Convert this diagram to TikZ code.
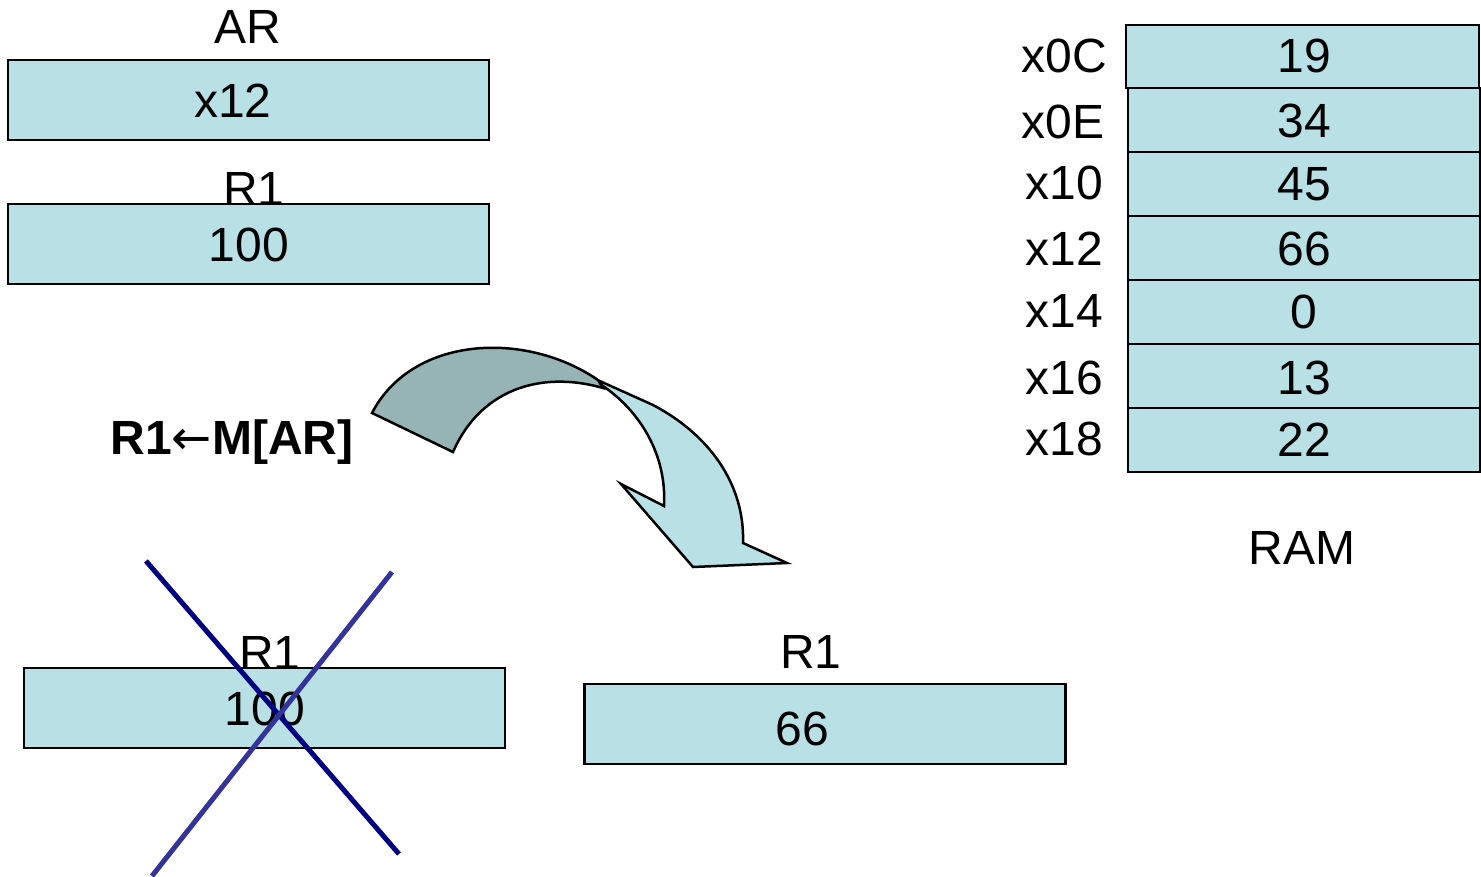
\documentclass[tikz,border=0pt]{standalone}
\usepackage{fontspec}
\setmainfont{Liberation Sans}
\newfontfamily\arrowfont{DejaVu Sans}
\newcommand\bigtxt{\fontsize{48}{57}\selectfont}
\definecolor{cellfill}{RGB}{185,224,228}
\definecolor{backfill}{RGB}{150,180,182}
\definecolor{navyA}{RGB}{0,0,128}
\definecolor{navyB}{RGB}{51,51,153}
\begin{document}
\begin{tikzpicture}[x=1pt,y=-1pt,
  reg/.style={draw, line width=2.5pt, fill=cellfill, inner sep=0pt, outer sep=0pt},
  wide/.style={reg, minimum width=481pt, minimum height=80pt},
  cell/.style={reg, minimum width=352pt, minimum height=64pt},
  txt/.style={font=\bigtxt, anchor=base, inner sep=0pt},
  cross/.style={line width=5pt}]
\useasboundingbox (0,0) rectangle (1481,876);

% AR register
\node[txt] (arlab) at (248,43) {AR};
\node[wide] (arbox) at (248.5,100) {};
\node[txt] (arval) at (233,117) {x12};

% R1 register (before)
\node[txt] (r1lab) at (254,205) {R1};
\node[wide] (r1box) at (248.5,244) {};
\node[txt] (r1val) at (249,261) {100};

% RAM
\node[reg, minimum width=353pt, minimum height=63pt] (m0) at (1302.5,56.5) {};
\node[cell] (m1) at (1304,120) {};
\node[cell] (m2) at (1304,184) {};
\node[cell] (m3) at (1304,248) {};
\node[cell] (m4) at (1304,312) {};
\node[cell] (m5) at (1304,376) {};
\node[cell] (m6) at (1304,440) {};
\node[txt] (v0) at (1304,72) {19};
\node[txt] (v1) at (1304,137) {34};
\node[txt] (v2) at (1304,200) {45};
\node[txt] (v3) at (1304,265) {66};
\node[txt] (v4) at (1304,328) {0};
\node[txt] (v5) at (1304,394) {13};
\node[txt] (v6) at (1304,456) {22};
\node[txt] (a0) at (1064,72) {x0C};
\node[txt] (a1) at (1063,138) {x0E};
\node[txt] (a2) at (1064,199) {x10};
\node[txt] (a3) at (1064,265) {x12};
\node[txt] (a4) at (1064,327) {x14};
\node[txt] (a5) at (1064,394) {x16};
\node[txt] (a6) at (1064,455) {x18};
\node[txt] (ramlab) at (1302,564) {RAM};

% operation label
\node[txt, font=\bigtxt\bfseries] (op) at (232,454) {R1{\arrowfont\mdseries ←}M[AR]};

% curved arrow
\draw[line width=2.5pt, fill=cellfill, line join=miter]
  (593,378) -- (653,405) .. controls (710,435) and (745,485) .. (743,543)
  -- (787,563) -- (693,567) -- (621,484) -- (664,506)
  .. controls (667,455) and (640,410) .. (600,384) -- cycle;
\draw[line width=2.5pt, fill=backfill, line join=miter]
  (372,413) .. controls (412,336) and (525,330) .. (598,380)
  -- (603,388) .. controls (540,370) and (480,390) .. (453,452) -- cycle;

% R1 register (after, crossed)
\node[txt] (r1olab) at (270,669) {R1};
\node[wide] (r1obox) at (264.5,708) {};
\node[txt] (r1oval) at (265,725) {100};
\coordinate (c1a) at (146,561);
\coordinate (c1b) at (399,854);
\coordinate (c2a) at (392,572);
\coordinate (c2b) at (152,876);
\draw[cross, navyA] (c1a) -- (c1b);
\draw[cross, navyB] (c2a) -- (c2b);

% R1 register (new)
\node[txt] (r1nlab) at (811,668) {R1};
\node[wide] (r1nbox) at (825,724) {};
\node[txt] (r1nval) at (802,745) {66};
\end{tikzpicture}
\end{document}
